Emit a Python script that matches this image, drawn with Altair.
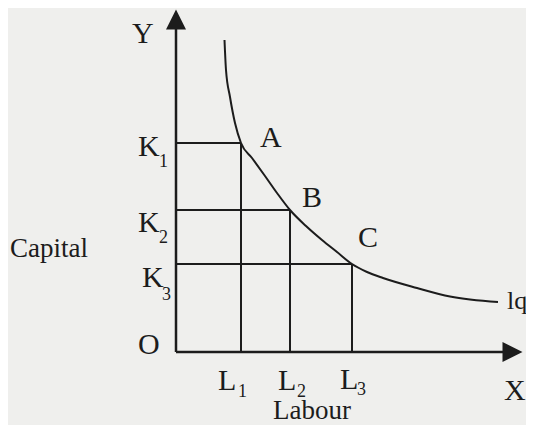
import altair as alt
import pandas as pd

# ---- diagram values (data units: origin O at 0,0) ----
labour = [65, 114, 176]          # L1, L2, L3
capital = [209, 142, 88]         # K1, K2, K3
point_names = ["A", "B", "C"]

# isoquant Iq
curve_x = [48.5, 50, 54, 59, 65, 76, 89, 101, 114, 130, 146, 161, 176, 191, 207, 241, 274, 322]
curve_y = [312, 282, 255, 229, 209, 194, 176, 159, 142, 126, 112, 100, 88, 80, 74, 64, 55.5, 50]

x_axis_len = 330
y_axis_len = 325
x_arrow = 336.5
y_arrow = 332.5

# labels
main_text = ["Y", "K", "K", "K", "O", "L", "L", "L", "X", "A", "B", "C"]
main_x = [-44, -38, -38, -34, -38, 42, 102, 164, 328, 84, 126, 182]
main_y = [309, 196, 120, 65, -2, -38, -38, -37, -48, 205, 145, 105]

sub_text = ["1", "2", "3", "1", "2", "3"]
sub_x = [-17, -17, -14, 62, 121, 181]
sub_y = [185, 109, 52, -45, -45, -43]

word_text = ["Capital", "Labour"]
word_x = [-166, 97]
word_y = [95, -67]

iq_text = ["lq"]
iq_x = [331]
iq_y = [43]

INK = "#1c1c1c"
FONT = "Liberation Serif"

xs = alt.Scale(domain=[-168, 350], nice=False, zero=False)
ys = alt.Scale(domain=[-73, 344], nice=False, zero=False)


def X(field="x"):
    return alt.X(f"{field}:Q", scale=xs, axis=None)


def Y(field="y"):
    return alt.Y(f"{field}:Q", scale=ys, axis=None)


# axes
axes_df = pd.DataFrame({
    "x": [0, 0], "x2": [x_axis_len, 0],
    "y": [0, 0], "y2": [0, y_axis_len],
})
axes = alt.Chart(axes_df).mark_rule(color=INK, strokeWidth=2.5).encode(
    x=X(), x2="x2:Q", y=Y(), y2="y2:Q"
)

up_arrow = alt.Chart(pd.DataFrame({"x": [0], "y": [y_arrow]})).mark_point(
    shape="M0,-1L1,1L-1,1Z", filled=True, size=400, color=INK, opacity=1
).encode(x=X(), y=Y())

right_arrow = alt.Chart(pd.DataFrame({"x": [x_arrow], "y": [0]})).mark_point(
    shape="M1,0L-1,-1L-1,1Z", filled=True, size=400, color=INK, opacity=1
).encode(x=X(), y=Y())

# guide lines from the axes to A, B, C
h_df = pd.DataFrame({"x": [0] * 3, "x2": labour, "y": capital, "y2": capital})
v_df = pd.DataFrame({"x": labour, "x2": labour, "y": [0] * 3, "y2": capital})
hlines = alt.Chart(h_df).mark_rule(color=INK, strokeWidth=2).encode(
    x=X(), x2="x2:Q", y=Y(), y2="y2:Q"
)
vlines = alt.Chart(v_df).mark_rule(color=INK, strokeWidth=2).encode(
    x=X(), x2="x2:Q", y=Y(), y2="y2:Q"
)

# isoquant
curve_df = pd.DataFrame({"x": curve_x, "y": curve_y, "o": range(len(curve_x))})
curve = alt.Chart(curve_df).mark_line(
    color=INK, strokeWidth=2, interpolate="monotone"
).encode(x=X(), y=Y(), order="o:Q")


def text_layer(texts, xv, yv, size):
    df = pd.DataFrame({"t": texts, "x": xv, "y": yv})
    return alt.Chart(df).mark_text(
        align="left", baseline="alphabetic", font=FONT, fontSize=size, color=INK
    ).encode(x=X(), y=Y(), text="t:N")


labels_main = text_layer(main_text, main_x, main_y, 30)
labels_sub = text_layer(sub_text, sub_x, sub_y, 18)
labels_word = text_layer(word_text, word_x, word_y, 27)
labels_iq = text_layer(iq_text, iq_x, iq_y, 26)

chart = alt.layer(
    hlines, vlines, axes, up_arrow, right_arrow, curve,
    labels_main, labels_sub, labels_word, labels_iq
).properties(
    width=518, height=417, padding=0,
    autosize=alt.AutoSizeParams(type="none"),
).configure(background="#efefed").configure_view(stroke=None)

chart.save("out.html", embed_options={"renderer": "svg", "actions": False})
